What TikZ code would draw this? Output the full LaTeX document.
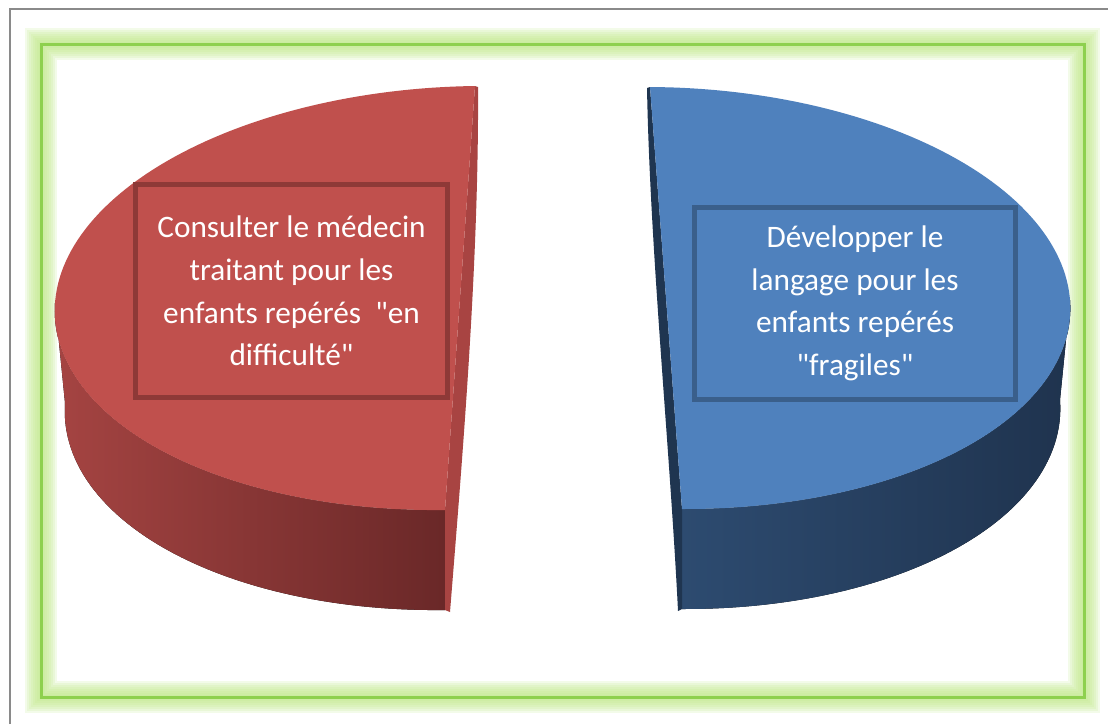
\documentclass[tikz,border=0pt]{standalone}
\usepackage{fontspec}
\setmainfont{Carlito}[Ligatures=TeXOff]
\definecolor{framegray}{HTML}{8A8A8A}
\definecolor{glowgreen}{HTML}{C2EA8C}
\definecolor{linegreen}{HTML}{8ED04E}
\definecolor{redtop}{HTML}{C0504D}
\definecolor{redsideL}{HTML}{A54442}
\definecolor{redsideR}{HTML}{6A2828}
\definecolor{redstrip}{HTML}{A84442}
\definecolor{redboxline}{HTML}{8E3937}
\definecolor{bluetop}{HTML}{4F81BD}
\definecolor{bluesideL}{HTML}{2D4B70}
\definecolor{bluesideR}{HTML}{1F334E}
\definecolor{bluestrip}{HTML}{1F3550}
\definecolor{blueboxline}{HTML}{3A5F8B}
\tikzset{
  labelbox/.style={draw=#1, line width=0.1cm, align=center, text=white, inner sep=0pt,
    font=\fontsize{17.8}{24.2}\selectfont},
}
\begin{document}
\begin{tikzpicture}[x=0.02cm,y=-0.02cm]
\useasboundingbox (0,0) rectangle (1108,724);
\fill[white] (0,0) rectangle (1108,724);
% outer gray frame
\draw[framegray, line width=0.05cm] (10,724) -- (10,9) -- (1108,9);
% green glowing frame
\foreach \w in {32,28,24,20,16,12,8,4}
  \draw[glowgreen, line width=\w*0.02cm, opacity=0.19] (41,44) rectangle (1084,697);
\draw[linegreen, line width=0.06cm] (41,44) rectangle (1084,697);

% ---- red half pie ----
\fill[left color=redsideL, right color=redsideR]
  plot[domain=0:-90,samples=60] ({460-405*cos(\x)+15*sin(\x)},{298+5*cos(\x)-212*sin(\x)})
  -- plot[domain=-90:0,samples=60] ({460-395*cos(\x)+15*sin(\x)},{398+5*cos(\x)-212*sin(\x)})
  -- cycle;
\fill[redstrip] (475,86) -- (478,87) .. controls (479,260) and (463,450) .. (450,612)
  -- (445,610) -- (445,510) -- cycle;
\fill[redtop]
  plot[domain=90:-90,samples=120] ({460-405*cos(\x)+15*sin(\x)},{298+5*cos(\x)-212*sin(\x)})
  -- cycle;

% ---- blue half pie ----
\fill[left color=bluesideL, right color=bluesideR]
  plot[domain=-90:0,samples=60] ({666+404*cos(\x)-16*sin(\x)},{298+2*cos(\x)-211*sin(\x)})
  -- plot[domain=0:-90,samples=60] ({666+394*cos(\x)-16*sin(\x)},{398+2*cos(\x)-211*sin(\x)})
  -- cycle;
\fill[bluestrip] (650,87) -- (647,88) .. controls (650,250) and (670,450) .. (678,611)
  -- (682,609) -- (682,509) -- cycle;
\fill[bluetop]
  plot[domain=90:-90,samples=120] ({666+404*cos(\x)-16*sin(\x)},{298+2*cos(\x)-211*sin(\x)})
  -- cycle;

% ---- labels ----
\node[labelbox=redboxline, minimum width=6.24cm, minimum height=4.26cm] (rbox) at (291.5,291)
  {Consulter le médecin\\traitant pour les\\enfants repérés\ \ "en\\difficulté"};
\node[labelbox=blueboxline, minimum width=6.42cm, minimum height=3.84cm] (bbox) at (855,303.5)
  {Développer le\\langage pour les\\enfants repérés\\"fragiles"};
\end{tikzpicture}
\end{document}
